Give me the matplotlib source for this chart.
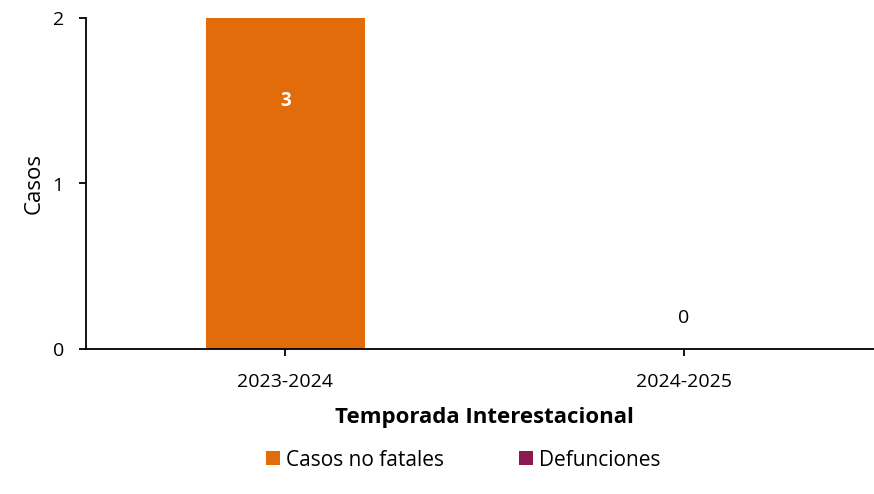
import matplotlib.pyplot as plt
import numpy as np

plt.rcParams['font.family'] = ['Open Sans', 'DejaVu Sans']

temporadas = ["2023-2024", "2024-2025"]
casos_no_fatales = [3, 0]
defunciones = [0, 0]

color_casos = "#E36C0A"
color_def = "#8B1A50"


def program_main():
    fig = plt.figure(figsize=(8.74, 4.94), dpi=100)
    ax = fig.add_axes([86 / 874, 145 / 494, 797 / 874, 331 / 494])

    xs = np.arange(len(temporadas))
    casos = np.array(casos_no_fatales)
    defs = np.array(defunciones)

    ax.bar(xs, casos, width=0.4, color=color_casos, label="Casos no fatales")
    ax.bar(xs, defs, width=0.4, bottom=casos, color=color_def, label="Defunciones")

    for x, v in zip(xs, casos + defs):
        if v > 0:
            ax.text(x, v / 2, str(v), ha="center", va="center",
                    color="white", fontweight="bold", fontsize=13.5)
        else:
            ax.annotate(str(v), (x, v), xytext=(0, 16), textcoords="offset points",
                        ha="center", va="bottom", fontsize=14)

    ax.set_xlim(-0.5, 1.5)
    ax.set_ylim(0, 2)
    ax.set_yticks([0, 1, 2])
    ax.set_xticks(xs)
    ax.set_xticklabels(temporadas)

    for s in ["top", "right"]:
        ax.spines[s].set_visible(False)
    ax.spines["left"].set_linewidth(1.3)
    ax.spines["bottom"].set_linewidth(1.3)
    ax.tick_params(axis="y", length=5, width=1.3, pad=11, labelsize=14)
    ax.tick_params(axis="x", length=5, width=1.3, pad=12.5, labelsize=14)

    ax.set_ylabel("Casos", fontsize=16, labelpad=6)
    ax.set_xlabel("Temporada Interestacional", fontsize=16, fontweight="bold", labelpad=11)

    fig.legend(loc="center", bbox_to_anchor=(463 / 874, 1 - 460 / 494), ncol=2,
               frameon=False, fontsize=15, handlelength=0.67, handleheight=0.67,
               handletextpad=0.3, columnspacing=3.6)

    fig.savefig("out.png")


program_main()
